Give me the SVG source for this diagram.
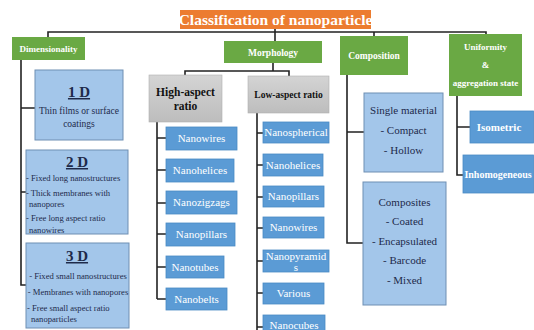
<svg xmlns="http://www.w3.org/2000/svg" width="534" height="330" viewBox="0 0 534 330" font-family="'Liberation Serif', serif">
<style>
text{font-family:'Liberation Serif',serif;}
.green{fill:#6aa944;}
.hdr{fill:#fff;font-weight:bold;font-size:9.5px;text-anchor:middle;}
.item{fill:#5b9bd5;stroke:#4a8ac4;stroke-width:0.8;}
.itxt{fill:#fff;font-size:11px;text-anchor:middle;}
.lb{fill:#a3c6ea;stroke:#6f8fb3;stroke-width:1;}
.ltxt{fill:#1e2a4a;font-size:11px;text-anchor:middle;}
.stxt{fill:#1e2a4a;font-size:8.6px;}
.big{fill:#1e2a4a;font-size:15px;font-weight:bold;text-anchor:middle;text-decoration:underline;}
.gbox{fill:url(#gray);stroke:#b0b0b0;stroke-width:0.6;}
.gtxt{fill:#111;font-weight:bold;text-anchor:middle;}
.ln{fill:none;stroke:#222;stroke-width:1.6;}
</style>
<defs>
<linearGradient id="gray" x1="0" y1="0" x2="0" y2="1">
<stop offset="0" stop-color="#d4d4d4"/><stop offset="1" stop-color="#bdbdbd"/>
</linearGradient>
</defs>
<rect width="534" height="330" fill="#fff"/>
<g id="connectors">
<path class="ln" d="M48,37 V32 H486 V34"/>
<path class="ln" d="M275,29 V41"/>
<path class="ln" d="M374,32 V36"/>
<path class="ln" d="M273,63 V71 M185,75 V71 H289 V76"/>
<path class="ln" d="M21,60 V285 H26 M21,108 H35 M21,192 H26"/>
<path class="ln" d="M157,122 V299 M157,138 H166 M157,170 H166 M157,203 H166 M157,234 H166 M157,267 H166 M157,299 H166"/>
<path class="ln" d="M257,113 V330 M257,133 H263 M257,165 H263 M257,197 H263 M257,228 H263 M257,261 H263 M257,293 H263 M257,327 H263"/>
<path class="ln" d="M347,75 V243 H363 M347,132 H364"/>
<path class="ln" d="M457,96 V175 H464 M457,127 H470"/>
</g>
<g id="title">
<rect x="180" y="10" width="191" height="19" fill="#ec7c30"/>
<text x="275.5" y="25" style="fill:#fff;font-size:15.5px;font-weight:bold;text-anchor:middle">Classification of nanoparticle</text>
</g>
<g id="dimensionality">
<rect class="green" x="12" y="37" width="73" height="23"/>
<text class="hdr" x="48.5" y="52" style="font-size:9px">Dimensionality</text>
</g>
<g id="morphology">
<rect class="green" x="224" y="41" width="98" height="22"/>
<text class="hdr" x="273" y="56">Morphology</text>
</g>
<g id="composition">
<rect class="green" x="340" y="36" width="68" height="39"/>
<text class="hdr" x="374" y="59">Composition</text>
</g>
<g id="uniformity">
<rect class="green" x="449" y="34" width="73" height="62"/>
<text class="hdr" x="485.5" y="50" style="font-size:9px">Uniformity</text>
<text class="hdr" x="485.5" y="68" style="font-size:9px">&amp;</text>
<text class="hdr" x="485.5" y="86" style="font-size:9px">aggregation state</text>
</g>
<g id="d1">
<rect class="lb" x="35" y="70" width="88" height="70"/>
<text class="big" x="79" y="97">1 D</text>
<text class="ltxt" x="79" y="114" style="font-size:9.5px">Thin films or surface</text>
<text class="ltxt" x="79" y="127" style="font-size:9.5px">coatings</text>
</g>
<g id="d2">
<rect class="lb" x="26" y="150" width="102" height="84"/>
<text class="big" x="77" y="167">2 D</text>
<text class="stxt" x="26" y="181">- Fixed long nanostructures</text>
<text class="stxt" x="26" y="196">- Thick membranes with</text>
<text class="stxt" x="29" y="207">nanopores</text>
<text class="stxt" x="26" y="221">- Free long aspect ratio</text>
<text class="stxt" x="29" y="233">nanowires</text>
</g>
<g id="d3">
<rect class="lb" x="26" y="243" width="103" height="85"/>
<text class="big" x="77" y="261">3 D</text>
<text class="stxt" x="78" y="279" style="text-anchor:middle">- Fixed small nanostructures</text>
<text class="stxt" x="78" y="295" style="text-anchor:middle">- Membranes with nanopores</text>
<text class="stxt" x="27" y="311">- Free small aspect ratio</text>
<text class="stxt" x="31" y="322">nanoparticles</text>
</g>
<g id="high">
<rect class="gbox" x="149" y="75" width="73" height="47"/>
<text class="gtxt" x="185.5" y="96" style="font-size:11.5px">High-aspect</text>
<text class="gtxt" x="185.5" y="110" style="font-size:11.5px">ratio</text>
</g>
<g id="low">
<rect class="gbox" x="248" y="76" width="81" height="37"/>
<text class="gtxt" x="288.5" y="98" style="font-size:9.5px">Low-aspect ratio</text>
</g>
<g id="h1"><rect class="item" x="166" y="127" width="71" height="23"/><text class="itxt" x="201.5" y="142">Nanowires</text></g>
<g id="h2"><rect class="item" x="166" y="159" width="68" height="23"/><text class="itxt" x="200" y="174">Nanohelices</text></g>
<g id="h3"><rect class="item" x="166" y="191" width="71" height="23"/><text class="itxt" x="201.5" y="206">Nanozigzags</text></g>
<g id="h4"><rect class="item" x="166" y="223" width="69" height="23"/><text class="itxt" x="201.5" y="238">Nanopillars</text></g>
<g id="h5"><rect class="item" x="166" y="256" width="58" height="22"/><text class="itxt" x="195" y="271">Nanotubes</text></g>
<g id="h6"><rect class="item" x="166" y="288" width="61" height="22"/><text class="itxt" x="196.5" y="303">Nanobelts</text></g>
<g id="l1"><rect class="item" x="263" y="122" width="66" height="21"/><text class="itxt" x="296" y="136">Nanospherical</text></g>
<g id="l2"><rect class="item" x="263" y="154" width="60" height="22"/><text class="itxt" x="293" y="169">Nanohelices</text></g>
<g id="l3"><rect class="item" x="263" y="186" width="61" height="21"/><text class="itxt" x="293.5" y="200">Nanopillars</text></g>
<g id="l4"><rect class="item" x="263" y="217" width="61" height="21"/><text class="itxt" x="293.5" y="231">Nanowires</text></g>
<g id="l5"><rect class="item" x="263" y="250" width="66" height="22"/><text class="itxt" x="296" y="260">Nanopyramid</text><text class="itxt" x="296" y="271">s</text></g>
<g id="l6"><rect class="item" x="263" y="283" width="61" height="21"/><text class="itxt" x="293.5" y="297">Various</text></g>
<g id="l7"><rect class="item" x="263" y="315" width="62" height="20"/><text class="itxt" x="294" y="329">Nanocubes</text></g>
<g id="single">
<rect class="lb" x="364" y="93" width="79" height="79"/>
<text class="ltxt" x="403.5" y="114">Single material</text>
<text class="ltxt" x="403.5" y="134">- Compact</text>
<text class="ltxt" x="403.5" y="154">- Hollow</text>
</g>
<g id="composites">
<rect class="lb" x="363" y="182" width="83" height="123"/>
<text class="ltxt" x="404.5" y="206">Composites</text>
<text class="ltxt" x="404.5" y="225">- Coated</text>
<text class="ltxt" x="404.5" y="245">- Encapsulated</text>
<text class="ltxt" x="404.5" y="264">- Barcode</text>
<text class="ltxt" x="404.5" y="284">- Mixed</text>
</g>
<g id="isometric"><rect class="item" x="470" y="111" width="63.5" height="32"/><text class="itxt" x="499" y="131" style="font-weight:bold">Isometric</text></g>
<g id="inhomogeneous"><rect class="item" x="463" y="155" width="70.5" height="38"/><text class="itxt" x="498" y="178" style="font-weight:bold;font-size:10px">Inhomogeneous</text></g>
</svg>
